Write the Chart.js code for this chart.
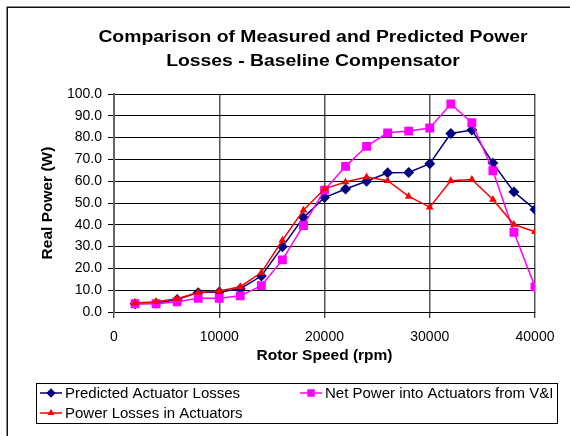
<!DOCTYPE html>
<html>
<head>
<meta charset="utf-8">
<script src="https://cdn.jsdelivr.net/npm/chart.js@4/dist/chart.umd.min.js"></script>
<style>
  html, body { margin: 0; padding: 0; background: #fff; }
  #wrap { position: relative; width: 570px; height: 436px; }
</style>
</head>
<body>
<div id="wrap"><canvas id="c" width="570" height="436"></canvas></div>
<script>
// ---- data ----
const titleLines = ['Comparison of Measured and Predicted Power', 'Losses - Baseline Compensator'];
const xAxisTitle = 'Rotor Speed (rpm)';
const yAxisTitle = 'Real Power (W)';
const rotorSpeed = [2000, 4000, 6000, 8000, 10000, 12000, 14000, 16000, 18000, 20000,
                    22000, 24000, 26000, 28000, 30000, 32000, 34000, 36000, 38000, 40000];
const predictedLosses = [3.8, 4.0, 5.7, 8.9, 9.2, 10.7, 16.5, 29.9, 43.3, 52.5,
                         56.4, 60.0, 63.9, 64.0, 68.0, 81.9, 83.5, 68.3, 55.1, 47.0];
const netPowerVI = [3.8, 3.8, 4.7, 6.3, 6.3, 7.4, 12.1, 23.9, 39.7, 55.9,
                    66.8, 76.0, 82.2, 83.0, 84.4, 95.4, 86.8, 64.8, 36.6, 11.5];
const powerLosses = [4.1, 4.7, 6.1, 9.0, 9.6, 11.6, 18.1, 32.9, 46.7, 56.5,
                     59.6, 61.9, 60.2, 53.0, 48.1, 60.2, 60.8, 51.6, 40.1, 36.8];
const seriesNames = ['Predicted Actuator Losses', 'Net Power into Actuators from V&I', 'Power Losses in Actuators'];
const xTicks = [0, 10000, 20000, 30000, 40000];
const yTicks = [0, 10, 20, 30, 40, 50, 60, 70, 80, 90, 100];

const FONT = '"Liberation Sans", Arial, sans-serif';
const pts = (ys) => rotorSpeed.map((x, i) => ({ x: x, y: ys[i] }));

const datasets = [
  { label: seriesNames[0], data: pts(predictedLosses), borderColor: '#000080', backgroundColor: '#000080',
    pointStyle: 'rectRot', pointRadius: 4.4, borderWidth: 1.5, order: 3 },
  { label: seriesNames[1], data: pts(netPowerVI), borderColor: '#FF00FF', backgroundColor: '#FF00FF',
    pointStyle: 'rect', pointRadius: 5.2, borderWidth: 1.5, order: 2 },
  { label: seriesNames[2], data: pts(powerLosses), borderColor: '#FF0000', backgroundColor: '#FF0000',
    pointStyle: 'triangle', pointRadius: 3, borderWidth: 1.5, order: 1 }
];

const decor = {
  id: 'decor',
  beforeDraw(chart) {
    const ctx = chart.ctx;
    ctx.save();
    ctx.fillStyle = '#fff';
    ctx.fillRect(0, 0, chart.width, chart.height);
    ctx.strokeStyle = '#111';
    ctx.lineWidth = 1.5;
    ctx.beginPath();
    ctx.moveTo(7.25, chart.height);
    ctx.lineTo(7.25, 7.25);
    ctx.lineTo(chart.width, 7.25);
    ctx.stroke();
    ctx.restore();
  },
  afterDraw(chart) {
    const ctx = chart.ctx;
    ctx.save();
    // title (slightly wide lettering, like the reference)
    ctx.fillStyle = '#000';
    ctx.font = 'bold 16px ' + FONT;
    ctx.textAlign = 'center';
    ctx.textBaseline = 'alphabetic';
    const base = [42, 66];
    titleLines.forEach((t, i) => {
      ctx.save();
      ctx.translate(313, base[i]);
      ctx.scale(1.21, 1);
      ctx.fillText(t, 0, 0);
      ctx.restore();
    });
    // legend
    ctx.strokeStyle = '#000';
    ctx.lineWidth = 1;
    ctx.strokeRect(36.5, 383.5, 521, 40);
    const items = [
      { ds: 0, x: 40, y: 393 },
      { ds: 1, x: 300, y: 393 },
      { ds: 2, x: 40, y: 413 }
    ];
    items.forEach(it => {
      const d = chart.data.datasets[it.ds];
      ctx.strokeStyle = d.borderColor;
      ctx.fillStyle = d.backgroundColor;
      ctx.lineWidth = 1.5;
      ctx.beginPath();
      ctx.moveTo(it.x, it.y);
      ctx.lineTo(it.x + 22, it.y);
      ctx.stroke();
      const r = d.pointStyle === 'rect' ? 4.2 : (d.pointStyle === 'triangle' ? 2.6 : 3.6);
      Chart.helpers.drawPoint(ctx, { pointStyle: d.pointStyle, radius: r, rotation: 0, borderWidth: 1 }, it.x + 11, it.y);
      ctx.fillStyle = '#000';
      ctx.font = '15px ' + FONT;
      ctx.textAlign = 'left';
      ctx.textBaseline = 'middle';
      ctx.fillText(d.label, it.x + 25, it.y + 1);
    });
    ctx.restore();
  }
};

new Chart(document.getElementById('c'), {
  type: 'line',
  data: { datasets: datasets },
  plugins: [decor],
  options: {
    responsive: false,
    animation: false,
    layout: { padding: { top: 94, left: 30, right: 35, bottom: 70 } },
    plugins: { legend: { display: false }, title: { display: false }, tooltip: { enabled: false } },
    elements: { line: { tension: 0 } },
    scales: {
      x: {
        type: 'linear', min: xTicks[0], max: xTicks[xTicks.length - 1],
        afterBuildTicks: (s) => { s.ticks = xTicks.map(v => ({ value: v })); },
        afterFit: (s) => { s.height = 54; },
        ticks: { color: '#000', font: { family: FONT, size: 14 }, padding: 11, maxRotation: 0,
                 callback: (v) => String(v) },
        grid: { color: '#555', lineWidth: 1.5, tickLength: 6, tickColor: '#000', tickWidth: 1 },
        border: { color: '#000', width: 1 },
        title: { display: true, text: xAxisTitle, color: '#000', font: { family: FONT, size: 15.5, weight: 'bold' },
                 padding: { top: 0, bottom: 1 } }
      },
      y: {
        min: yTicks[0], max: yTicks[yTicks.length - 1],
        afterBuildTicks: (s) => { s.ticks = yTicks.map(v => ({ value: v })); },
        afterFit: (s) => { s.width = 84; },
        ticks: { color: '#000', font: { family: FONT, size: 14 }, padding: 6,
                 callback: (v) => Number(v).toFixed(1) },
        grid: { color: '#000', lineWidth: 1, tickLength: 6, tickColor: '#000', tickWidth: 1 },
        border: { color: '#666', width: 2 },
        title: { display: true, text: yAxisTitle, color: '#000', font: { family: FONT, size: 15.5, weight: 'bold' },
                 padding: { top: 8, bottom: 0 } }
      }
    }
  }
});
</script>
</body>
</html>
